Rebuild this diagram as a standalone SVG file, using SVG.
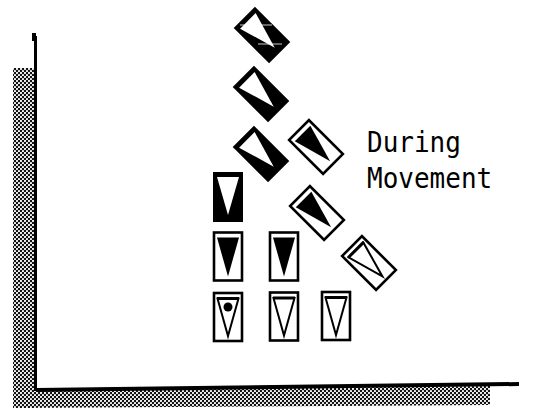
<svg xmlns="http://www.w3.org/2000/svg" width="557" height="415" viewBox="0 0 557 415">
<style>
.lbl{font-family:"DejaVu Sans Mono","Liberation Mono",monospace;font-size:26px;fill:#000}
.frame{fill:#fff;stroke:#000;stroke-width:2.6}
.blk{fill:#000}
.wht{fill:#fff}
.open{fill:none;stroke:#000;stroke-width:2}
</style>
<defs>
<pattern id="stip" width="4" height="4" patternUnits="userSpaceOnUse">
<rect width="4" height="4" fill="#111"/>
<circle cx="1" cy="1" r="1.1" fill="#fff"/>
<circle cx="3" cy="3" r="1.1" fill="#fff"/>
</pattern>
<g id="solidTag">
<rect x="-15" y="-25" width="30" height="50" class="blk"/>
<polygon points="-11,-20 11,-20 0,18" class="wht"/>
</g>
<g id="fillTag">
<rect x="-14" y="-24" width="28" height="48" class="frame"/>
<polygon points="-11,-19 11,-19 0,20" class="blk"/>
</g>
<g id="openTag">
<rect x="-14" y="-24" width="28" height="48" class="frame"/>
<polygon points="-10.5,-18.5 10.5,-18.5 0,19" class="open"/>
<line x1="-11" y1="-18.5" x2="11" y2="-18.5" stroke="#000" stroke-width="3"/>
</g>
</defs>
<rect width="557" height="415" fill="#fff"/>
<g id="frame">
<rect x="13" y="68" width="22" height="340" fill="url(#stip)"/>
<polygon points="13,390 490,386 490,405 13,408" fill="url(#stip)"/>
<rect x="34" y="36" width="3" height="355" fill="#000"/>
<rect x="32" y="33" width="4" height="8" fill="#000"/>
<polygon points="36,388 519,382 519,386 36,392" fill="#000"/>
</g>
<g id="connectors"></g>
<g id="tag-r1c1"><use href="#solidTag" transform="translate(228,197)"/></g>
<g id="tag-r2c1"><use href="#fillTag" transform="translate(228,256.5)"/></g>
<g id="tag-r2c2"><use href="#fillTag" transform="translate(284,256.5)"/></g>
<g id="tag-r3c1"><use href="#openTag" transform="translate(228,317)"/><circle cx="228" cy="307" r="4.5" fill="#000"/></g>
<g id="tag-r3c2"><use href="#openTag" transform="translate(284,316.5)"/></g>
<g id="tag-r3c3"><use href="#openTag" transform="translate(336,316)"/></g>
<g id="move-a1"><use href="#solidTag" transform="translate(262,35) rotate(-45)"/>
<line x1="240" y1="25" x2="272" y2="25" stroke="#fff" stroke-width="1" opacity="0.8"/>
<line x1="258" y1="44" x2="282" y2="44" stroke="#fff" stroke-width="1" opacity="0.8"/></g>
<g id="move-a2"><use href="#solidTag" transform="translate(261,94) rotate(-45)"/></g>
<g id="move-a3"><use href="#solidTag" transform="translate(261,154) rotate(-45)"/></g>
<g id="move-b1"><use href="#fillTag" transform="translate(316,147) rotate(-45)"/></g>
<g id="move-b2"><use href="#fillTag" transform="translate(317,213) rotate(-45)"/></g>
<g id="move-c1"><use href="#openTag" transform="translate(369,263) rotate(-45)"/></g>
<g id="label">
<text class="lbl" transform="translate(367,152) scale(1,1.1)">During</text>
<text class="lbl" transform="translate(367,188) scale(1,1.1)">Movement</text>
</g>
</svg>
